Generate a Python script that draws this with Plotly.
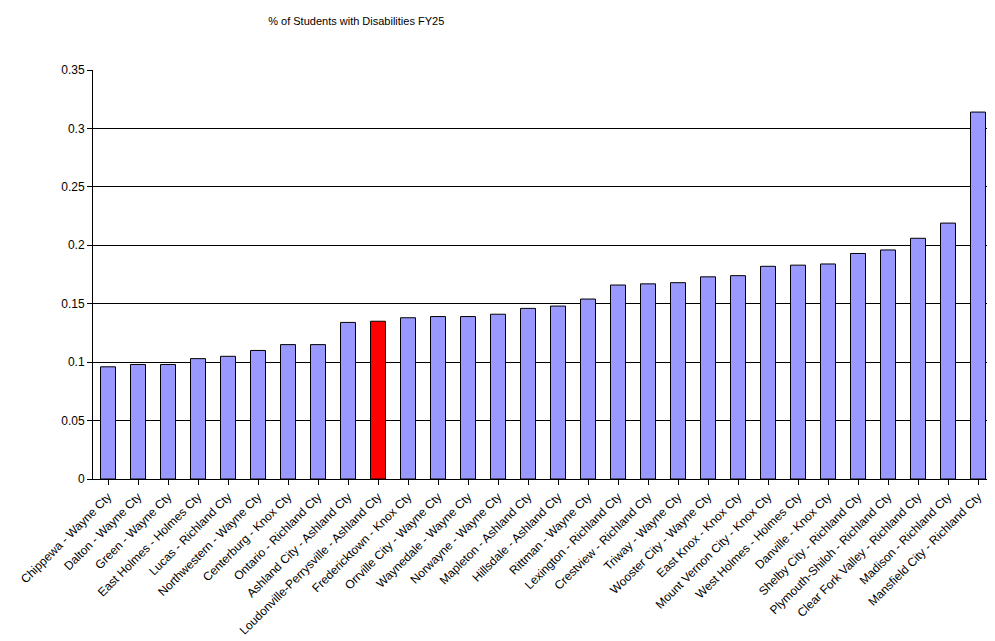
import plotly.graph_objects as go

districts = [
    "Chippewa - Wayne Cty", "Dalton - Wayne Cty", "Green - Wayne Cty",
    "East Holmes - Holmes Cty", "Lucas - Richland Cty", "Northwestern - Wayne Cty",
    "Centerburg - Knox Cty", "Ontario - Richland Cty", "Ashland City - Ashland Cty",
    "Loudonville-Perrysville - Ashland Cty", "Fredericktown - Knox Cty",
    "Orrville City - Wayne Cty", "Waynedale - Wayne Cty", "Norwayne - Wayne Cty",
    "Mapleton - Ashland Cty", "Hillsdale - Ashland Cty", "Rittman - Wayne Cty",
    "Lexington - Richland Cty", "Crestview - Richland Cty", "Triway - Wayne Cty",
    "Wooster City - Wayne Cty", "East Knox - Knox Cty", "Mount Vernon City - Knox Cty",
    "West Holmes - Holmes Cty", "Danville - Knox Cty", "Shelby City - Richland Cty",
    "Plymouth-Shiloh - Richland Cty", "Clear Fork Valley - Richland Cty",
    "Madison - Richland Cty", "Mansfield City - Richland Cty",
]
pct_disabilities = [
    0.096, 0.098, 0.098, 0.103, 0.105, 0.110, 0.115, 0.115, 0.134, 0.135,
    0.138, 0.139, 0.139, 0.141, 0.146, 0.148, 0.154, 0.166, 0.167, 0.168,
    0.173, 0.174, 0.182, 0.183, 0.184, 0.193, 0.196, 0.206, 0.219, 0.314,
]
highlight = "Loudonville-Perrysville - Ashland Cty"

colors = ["#FF0000" if d == highlight else "#9999FF" for d in districts]

fig = go.Figure(go.Bar(
    x=districts, y=pct_disabilities,
    marker=dict(color=colors, line=dict(color="black", width=1)),
    width=0.5,
))

fig.update_layout(
    title=dict(text="% of Students with Disabilities FY25", x=0.35, xanchor="center",
               y=0.985, yanchor="top", font=dict(size=11, color="black")),
    font=dict(family="Arial, Liberation Sans, sans-serif", size=12, color="black"),
    paper_bgcolor="white", plot_bgcolor="white",
    margin=dict(l=85, r=10, t=62, b=170),
    width=995, height=641,
    showlegend=False,
)
fig.update_xaxes(tickangle=-45, showline=True, linecolor="black", ticks="outside",
                 ticklen=5, tickcolor="black", tickfont=dict(size=12), automargin=False)
fig.update_yaxes(range=[0, 0.35], dtick=0.05, showgrid=True, gridcolor="black",
                 gridwidth=1, showline=True, linecolor="black", mirror=True,
                 ticks="outside", tickcolor="black", ticklen=5, zeroline=False,
                 tickformat="~g", automargin=False)

fig.write_html("out.html")
